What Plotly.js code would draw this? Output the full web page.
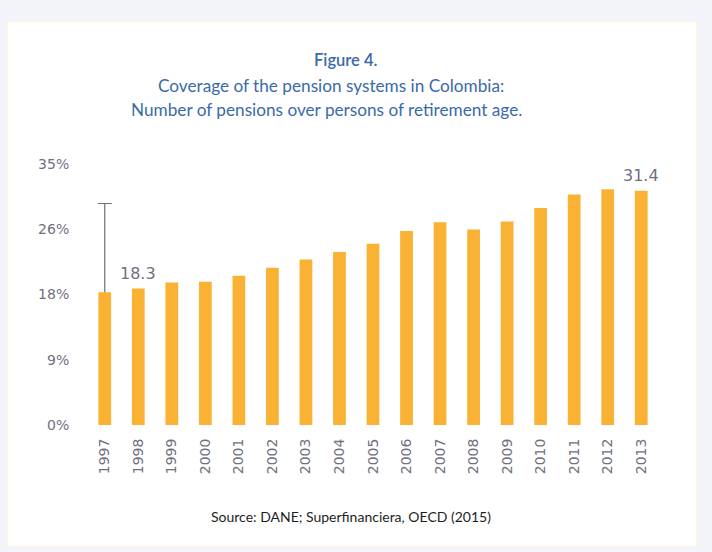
<!DOCTYPE html>
<html>
<head>
<meta charset="utf-8">
<script src="https://cdn.plot.ly/plotly-3.0.1.min.js"></script>
<style>
html,body{margin:0;padding:0;background:#f3f4fa;}
#chart{width:712px;height:552px;}
</style>
</head>
<body>
<div id="chart"></div>
<script>
// ---- data ----
const years = ['1997','1998','1999','2000','2001','2002','2003','2004','2005','2006','2007','2008','2009','2010','2011','2012','2013'];
const coverage = [17.8, 18.3, 19.1, 19.2, 20.0, 21.1, 22.2, 23.2, 24.3, 26.0, 27.2, 26.2, 27.3, 29.1, 30.9, 31.6, 31.4];
const labelledYears = ['1998', '2013'];
const yTickVals = [0, 8.75, 17.5, 26.25, 35];
const yTickText = ['0%', '9%', '18%', '26%', '35%'];
// stray vertical whisker visible at 1997 in the scan (upper / lower extent from bar top)
const whiskerYear = ['1997'];
const whiskerPlus  = [11.9];
const whiskerMinus = [24.1];

const titleLines = ['Figure 4.', 'Coverage of the pension systems in Colombia:', 'Number of pensions over persons of retirement age.'];
const sourceText = 'Source: DANE; Superfinanciera, OECD (2015)';

// ---- geometry helpers (pixels -> paper) ----
const L = 88, R = 54, T = 164, B = 127, W = 712, H = 552;
const pw = W - L - R, ph = H - T - B;
const px = x => (x - L) / pw;
const py = y => (H - B - y) / ph;

const orange = '#f9b233';
const grayText = '#70707f';
const blue = '#3a6aa8';

const traces = [
  {
    type: 'bar', x: whiskerYear, y: whiskerYear.map(y => coverage[years.indexOf(y)]),
    marker: {color: 'rgba(0,0,0,0)'},
    error_y: {type: 'data', symmetric: false, array: whiskerPlus, arrayminus: whiskerMinus,
              color: '#6f6f6f', thickness: 1.2, width: 7},
    cliponaxis: false, hoverinfo: 'skip', showlegend: false
  },
  {
    type: 'bar', x: years, y: coverage,
    marker: {color: orange, line: {width: 0}},
    cliponaxis: false, showlegend: false
  }
];

const annotations = [];
labelledYears.forEach(yr => {
  const i = years.indexOf(yr);
  annotations.push({
    x: i, y: coverage[i], xref: 'x', yref: 'y',
    text: coverage[i].toFixed(1), showarrow: false,
    yanchor: 'bottom', yshift: 4,
    font: {family: 'DejaVu Sans', size: 16, color: grayText}
  });
});
const titleCfg = [
  {cx: 346, cy: 60, size: 16.5, family: 'Lato', weight: 600},
  {cx: 331, cy: 85.5, size: 17.2, family: 'Lato', weight: 400},
  {cx: 326, cy: 109.5, size: 17.2, family: 'Lato', weight: 400}
];
titleLines.forEach((t, i) => {
  const c = titleCfg[i];
  annotations.push({
    xref: 'paper', yref: 'paper', x: px(c.cx), y: py(c.cy),
    xanchor: 'center', yanchor: 'middle', showarrow: false,
    text: t, font: {family: c.family, size: c.size, color: blue, weight: c.weight}
  });
});
annotations.push({
  xref: 'paper', yref: 'paper', x: px(351), y: py(516),
  xanchor: 'center', yanchor: 'middle', showarrow: false,
  text: sourceText, font: {family: 'Lato', size: 14, color: '#1e1e1e'}
});

const layout = {
  width: W, height: H,
  margin: {l: L, r: R, t: T, b: B, pad: 0},
  paper_bgcolor: '#f3f4fa',
  plot_bgcolor: 'rgba(0,0,0,0)',
  barmode: 'overlay',
  bargap: 0.62,
  showlegend: false,
  xaxis: {
    type: 'category', categoryorder: 'array', categoryarray: years,
    range: [-0.5, years.length - 0.5], autorange: false,
    tickangle: -90,
    ticks: 'outside', ticklen: 7, tickcolor: 'rgba(0,0,0,0)',
    showgrid: false, zeroline: false, showline: false,
    tickfont: {family: 'DejaVu Sans', size: 14, color: grayText}
  },
  yaxis: {
    range: [0, 35], autorange: false, tickvals: yTickVals, ticktext: yTickText,
    ticks: 'outside', ticklen: 15, tickcolor: 'rgba(0,0,0,0)',
    showgrid: false, zeroline: false, showline: false,
    tickfont: {family: 'DejaVu Sans', size: 14, color: grayText}
  },
  shapes: [{
    type: 'rect', xref: 'paper', yref: 'paper', layer: 'below',
    x0: px(7), x1: px(697), y0: py(546), y1: py(22),
    fillcolor: '#ffffff', line: {color: '#fbf7ea', width: 2}
  }],
  annotations: annotations
};

Plotly.newPlot('chart', traces, layout, {displayModeBar: false, staticPlot: true});
</script>
</body>
</html>
